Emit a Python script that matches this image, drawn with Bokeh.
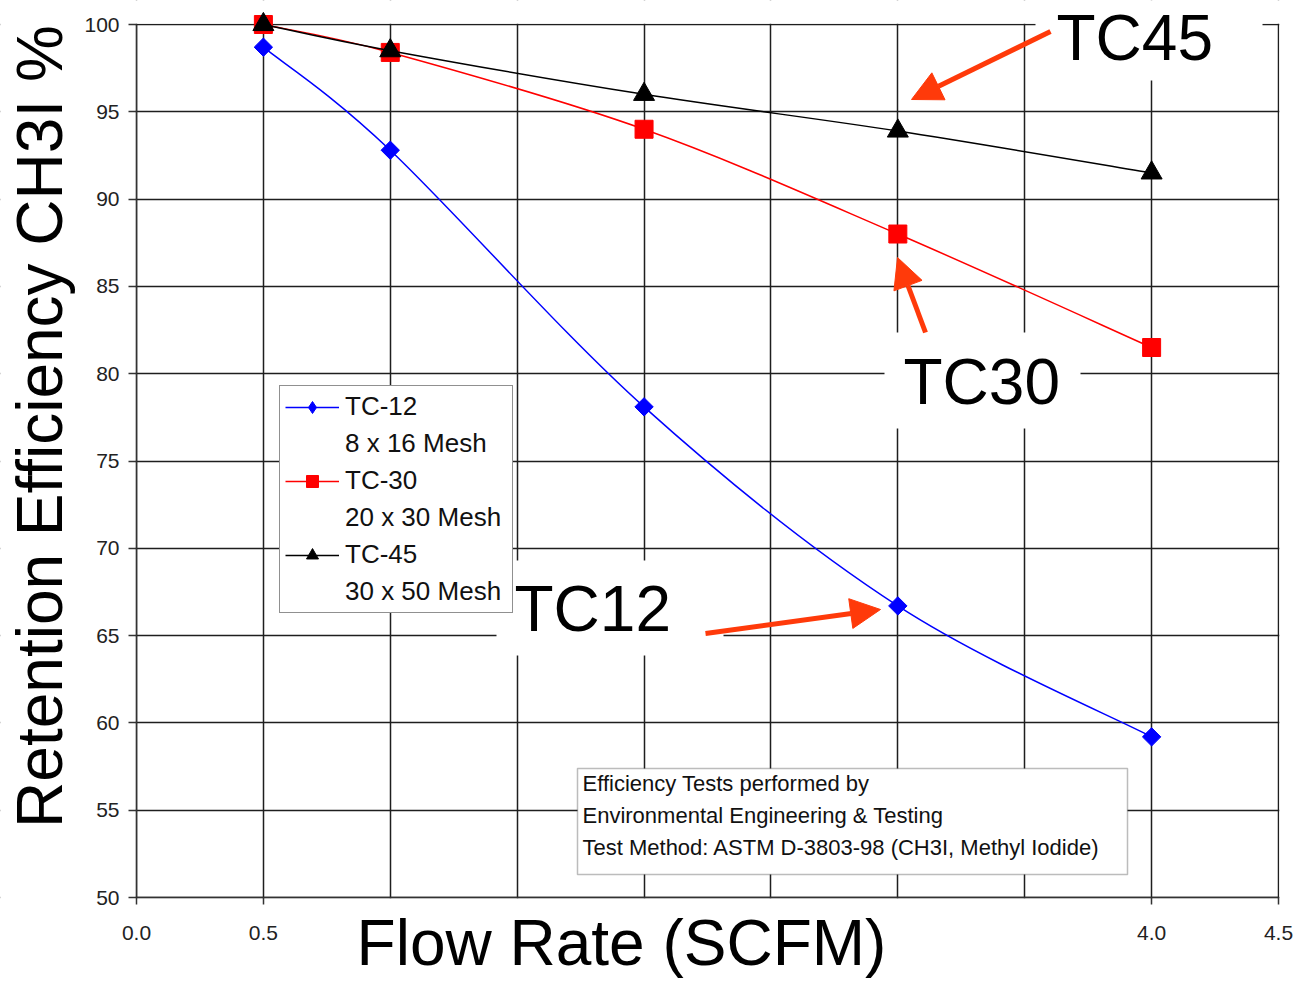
import math
from bokeh.plotting import figure
from bokeh.models import (Range1d, FixedTicker, CustomJSTickFormatter, Legend, LegendItem,
                          Label, BoxAnnotation, Arrow, NormalHead, ColumnDataSource)
from bokeh.embed import file_html
from bokeh.resources import INLINE

# ---------------- data ----------------
flow_rate = [0.5, 1.0, 2.0, 3.0, 4.0]
tc12 = [98.7, 92.8, 78.1, 66.7, 59.2]
tc30 = [100.0, 98.4, 94.0, 88.0, 81.5]
tc45 = [100.0, 98.5, 96.0, 93.9, 91.5]
series_names = ["TC-12", "TC-30", "TC-45"]
series_mesh = ["8 x 16 Mesh", "20 x 30 Mesh", "30 x 50 Mesh"]
x_grid_ticks = [0.0, 0.5, 1.0, 1.5, 2.0, 2.5, 3.0, 3.5, 4.0, 4.5]
x_labelled_ticks = [0.0, 0.5, 4.0, 4.5]
y_ticks = [50, 55, 60, 65, 70, 75, 80, 85, 90, 95, 100]
note_lines = ["Efficiency Tests performed by",
              "Environmental Engineering & Testing",
              "Test Method: ASTM D-3803-98 (CH3I, Methyl Iodide)"]
callouts = ["TC45", "TC30", "TC12"]
x_title = "Flow Rate (SCFM)"
y_title = "Retention Efficiency CH3I %"

FONT = "Liberation Sans"
ARROW_COLOR = "#FF3A0A"
BIG = 64

# ---------------- layout helpers (canvas pixels -> data) ----------------
W, H = 1297, 982
FX0, FX1, FY0, FY1 = 136, 1278, 24, 897          # plot area in canvas pixels
XMIN, XMAX, YMIN, YMAX = 0.0, 4.5, 50.0, 100.0
BASE_SHIFT = 0.36  # bokeh label anchor vs. drawn baseline, in font sizes


def dx(px):
    return XMIN + (px - FX0) / (FX1 - FX0) * (XMAX - XMIN)


def dy(py):
    return YMAX - (py - FY0) / (FY1 - FY0) * (YMAX - YMIN)


# the frame fills the whole canvas; the axes are pinned at x=0 / y=50
p = figure(width=W, height=H, output_backend="svg", toolbar_location=None,
           x_range=Range1d(dx(0), dx(W)), y_range=Range1d(dy(H), dy(0)),
           min_border=0)
p.outline_line_color = None
p.background_fill_color = "white"
p.border_fill_color = "white"

p.xaxis.fixed_location = YMIN
p.xaxis.bounds = (XMIN, XMAX)
p.yaxis.fixed_location = XMIN
p.yaxis.bounds = (YMIN, YMAX)
p.xaxis.ticker = FixedTicker(ticks=x_labelled_ticks)
p.xaxis.formatter = CustomJSTickFormatter(code="return tick.toFixed(1);")
p.yaxis.ticker = FixedTicker(ticks=y_ticks)
for ax in (p.xaxis[0], p.yaxis[0]):
    ax.axis_line_color = "#333333"
    ax.axis_line_width = 1.5
    ax.major_tick_line_color = "#333333"
    ax.major_tick_line_width = 1.5
    ax.major_tick_in = 0
    ax.minor_tick_line_color = None
    ax.major_label_text_font = FONT
    ax.major_label_text_font_size = "21px"
    ax.major_label_text_color = "#222222"
p.xaxis.major_tick_out = 7
p.yaxis.major_tick_out = 8
p.xaxis.major_label_standoff = 21
p.yaxis.major_label_standoff = 9

# grids
p.xgrid.ticker = FixedTicker(ticks=x_grid_ticks)
p.ygrid.ticker = FixedTicker(ticks=y_ticks)
for g in (p.xgrid[0], p.ygrid[0]):
    g.grid_line_color = "#1e1e1e"
    g.grid_line_width = 1.5

# white underlay masks: keep grid lines inside the plot area only
for (l, r, t, b) in [(0, W, 0, FY0 - 0.8), (0, W, FY1 + 0.8, H),
                     (0, FX0 - 0.8, 0, H), (FX1 + 0.8, W, 0, H)]:
    p.add_layout(BoxAnnotation(left=dx(l), right=dx(r), top=dy(t), bottom=dy(b),
                               fill_color="white", fill_alpha=1.0, line_color=None,
                               level="underlay"))


def smooth_segments(xs, ys, t=1.0 / 6.0):
    n = len(xs)
    d = dict(x0=[], y0=[], x1=[], y1=[], cx0=[], cy0=[], cx1=[], cy1=[])
    for i in range(n - 1):
        i0 = max(i - 1, 0)
        i3 = min(i + 2, n - 1)
        d["x0"].append(xs[i]); d["y0"].append(ys[i])
        d["x1"].append(xs[i + 1]); d["y1"].append(ys[i + 1])
        d["cx0"].append(xs[i] + (xs[i + 1] - xs[i0]) * t)
        d["cy0"].append(ys[i] + (ys[i + 1] - ys[i0]) * t)
        d["cx1"].append(xs[i + 1] - (xs[i3] - xs[i]) * t)
        d["cy1"].append(ys[i + 1] - (ys[i3] - ys[i]) * t)
    return ColumnDataSource(d)


series = [
    (tc12, "#0000FF", dict(marker="square", size=13, angle=math.pi / 4, leg="diamond", lsize=21)),
    (tc30, "#FF0000", dict(marker="square", size=18, angle=0.0, leg="square", lsize=18)),
    (tc45, "#000000", dict(marker="triangle", size=21, angle=0.0, leg="triangle", lsize=21)),
]
items = []
for (vals, color, mk), name, mesh in zip(series, series_names, series_mesh):
    bz = p.bezier(x0="x0", y0="y0", x1="x1", y1="y1", cx0="cx0", cy0="cy0",
                  cx1="cx1", cy1="cy1", source=smooth_segments(flow_rate, vals),
                  line_color=color, line_width=1.5)
    p.scatter(flow_rate, vals, marker=mk["marker"], size=mk["size"], angle=mk["angle"],
              fill_color=color, line_color=color)
    lg = p.scatter(flow_rate, vals, marker=mk["leg"], size=mk["lsize"],
                   fill_color=color, line_color=color, visible=False)
    items.append(LegendItem(label=name, renderers=[bz, lg]))
    items.append(LegendItem(label=mesh, renderers=[]))

legend = Legend(items=items, location=(279, H - 613),
                label_text_font=FONT, label_text_font_size="26px",
                label_text_color="#111111",
                glyph_width=54, glyph_height=30, label_height=30, label_width=162,
                label_standoff=6, padding=5, spacing=6, margin=0,
                border_line_color="#222222", border_line_width=1.5,
                background_fill_color="white", background_fill_alpha=1.0)
p.add_layout(legend)

# white masks behind the call-out words
for (l, r, t, b) in [(1035, 1262, 0, 80), (884, 1080, 332, 428), (496, 723, 560, 655)]:
    p.add_layout(BoxAnnotation(left=dx(l), right=dx(r), top=dy(t), bottom=dy(b),
                               fill_color="white", fill_alpha=1.0, line_color=None))

# note box
p.add_layout(BoxAnnotation(left=dx(577), right=dx(1127), top=dy(768), bottom=dy(874),
                           fill_color="white", fill_alpha=1.0, line_color="#222222",
                           line_width=1.5))
for txt, base in zip(note_lines, [791, 823, 855]):
    p.add_layout(Label(x=dx(582), y=dy(base - BASE_SHIFT * 22), text=txt, text_font=FONT,
                       text_font_size="22px", text_color="#111111",
                       text_align="left", text_baseline="alphabetic"))

# call-out words
for txt, (lx, base) in zip(callouts, [(1056, 61), (903, 405), (514, 632)]):
    p.add_layout(Label(x=dx(lx), y=dy(base - BASE_SHIFT * BIG), text=txt, text_font=FONT,
                       text_font_size=f"{BIG}px", text_color="black",
                       text_align="left", text_baseline="alphabetic"))

# arrows
for (x0, y0, x1, y1) in [(1050, 31, 911, 99), (925, 332, 897, 257), (705, 633, 880, 609)]:
    p.add_layout(Arrow(x_start=dx(x0), y_start=dy(y0), x_end=dx(x1), y_end=dy(y1),
                       line_color=ARROW_COLOR, line_width=5,
                       end=NormalHead(size=30, fill_color=ARROW_COLOR,
                                      line_color=ARROW_COLOR, line_width=1)))

# axis titles
p.add_layout(Label(x=dx(621), y=dy(966 - BASE_SHIFT * BIG), text=x_title, text_font=FONT,
                   text_font_size=f"{BIG}px", text_color="black",
                   text_align="center", text_baseline="alphabetic"))
p.add_layout(Label(x=dx(63 - BASE_SHIFT * BIG), y=dy(426), text=y_title, text_font=FONT,
                   text_font_size=f"{BIG}px", text_color="black", angle=math.pi / 2,
                   text_align="center", text_baseline="alphabetic"))

open("out.html", "w").write(file_html(p, INLINE))
